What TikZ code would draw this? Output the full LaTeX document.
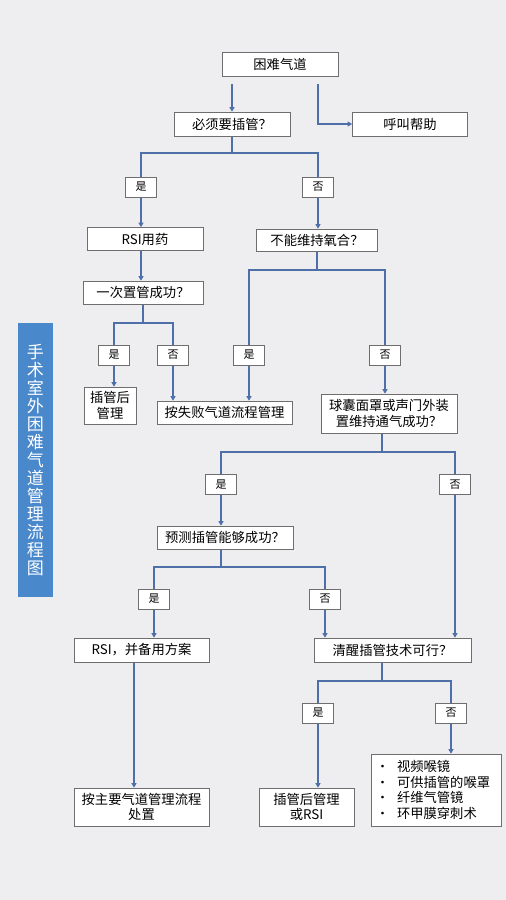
\documentclass[tikz,border=0pt]{standalone}
\usepackage{fontspec}
\setmainfont{Noto Sans CJK SC}
\usetikzlibrary{arrows.meta,backgrounds}
\definecolor{bg}{HTML}{EEEEF1}
\definecolor{ln}{HTML}{4F6FA8}
\definecolor{bd}{HTML}{6E6E6E}
\definecolor{ttl}{HTML}{4A88CC}
\newcommand{\mybul}{\makebox[21pt][l]{\fontsize{13}{15}\selectfont •}}
\tikzset{
  box/.style={draw=bd, line width=0.7pt, fill=white, inner sep=0pt, align=center, font=\fontsize{13.3}{15.5}\selectfont},
  lbl/.style={draw=bd, line width=0.6pt, fill=white, inner sep=0pt, minimum width=31pt, minimum height=20pt, font=\fontsize{11}{13}\selectfont},
  conn/.style={draw=ln, line width=1.5pt},
  thickconn/.style={draw=ln, line width=2.3pt},
  arr/.style={conn, -{Triangle[width=5pt,length=4.5pt]}},
}
\begin{document}
\begin{tikzpicture}[x=1pt,y=-1pt]
\useasboundingbox (0,0) rectangle (506,900);
\node[box,minimum width=116pt,minimum height=24pt] (t0) at (280,64) {困难气道};
\node[box,minimum width=116pt,minimum height=24pt] (q1) at (232,124) {必须要插管？};
\node[box,minimum width=115pt,minimum height=24pt] (help) at (410,124) {呼叫帮助};
\node[lbl] (y1) at (141,187) {是};
\node[lbl] (n1) at (318,187) {否};
\node[box,minimum width=116pt,minimum height=23pt] (rsi) at (145,239) {RSI用药};
\node[box,minimum width=121pt,minimum height=22pt] (q2) at (317,240) {不能维持氧合？};
\node[box,minimum width=120pt,minimum height=23pt] (q3) at (143,292.5) {一次置管成功？};
\node[lbl] (y3) at (114,355) {是};
\node[lbl] (n3) at (173,355) {否};
\node[lbl] (y2) at (249,355) {是};
\node[lbl] (n2) at (385,355) {否};
\node[box,minimum width=52pt,minimum height=37pt] (after1) at (110,405.5) {插管后\\管理};
\node[box,minimum width=135pt,minimum height=23pt] (fail) at (224.5,412.5) {按失败气道流程管理};
\node[box,minimum width=136pt,minimum height=39pt] (q4) at (389,413.5) {球囊面罩或声门外装\\置维持通气成功？};
\node[lbl] (y4) at (221,484.5) {是};
\node[lbl] (n4) at (455,484.5) {否};
\node[box,minimum width=136pt,minimum height=23pt] (q5) at (225,537.5) {预测插管能够成功？};
\node[lbl] (y5) at (154,599) {是};
\node[lbl] (n5) at (325,599) {否};
\node[box,minimum width=135pt,minimum height=24pt] (rsi2) at (141.5,650) {RSI，并备用方案};
\node[box,minimum width=157pt,minimum height=24pt] (q6) at (392.5,650) {清醒插管技术可行？};
\node[lbl] (y6) at (318,713) {是};
\node[lbl] (n6) at (451,713) {否};
\node[box,minimum width=135pt,minimum height=38pt] (end1) at (141.5,807) {按主要气道管理流程\\处置};
\node[box,minimum width=95pt,minimum height=38pt] (end2) at (306.5,807) {插管后管理\\或RSI};
\node[box,minimum width=130pt,minimum height=72pt,text width=120pt,align=left] (end3) at (436,790)
  {\mybul 视频喉镜\\\mybul 可供插管的喉罩\\\mybul 纤维气管镜\\\mybul 环甲膜穿刺术};
\node[fill=ttl, minimum width=35pt, minimum height=274pt, inner sep=0pt, text=white, align=center, font=\fontsize{17}{18}\selectfont] (title) at (35.5,460) {手\\术\\室\\外\\困\\难\\气\\道\\管\\理\\流\\程\\图};
\begin{scope}[on background layer]
\fill[bg] (0,0) rectangle (506,900);
\draw[arr] ([yshift=-8pt]t0.south -| q1.north) -- (q1.north);
\draw[arr] ([yshift=-8pt]t0.south -| n1.north) |- (help.west);
\coordinate (b1) at (232,153);
\draw[conn] (q1.south) -- (b1);
\draw[conn] (y1.north) |- (b1) -| (n1.north);
\draw[arr] (y1.south) -- (y1.south |- rsi.north);
\draw[arr] (n1.south) -- (n1.south |- q2.north);
\draw[arr] (y1.south |- rsi.south) -- (y1.south |- q3.north);
\coordinate (b3) at (143,323);
\draw[thickconn] (q3.south) -- (b3);
\draw[thickconn] (y3.north) |- (b3) -| (n3.north);
\draw[arr,line width=2.3pt] (y3.south) -- (y3.south |- after1.north);
\draw[arr] (n3.south) -- (n3.south |- fail.north);
\coordinate (b2) at (317,270);
\draw[conn] (q2.south) -- (b2);
\draw[conn] (y2.north) |- (b2) -| (n2.north);
\draw[arr] (y2.south) -- (y2.south |- fail.north);
\draw[arr] (n2.south) -- (n2.south |- q4.north);
\coordinate (b4) at (382,452);
\draw[conn] (b4 |- q4.south) -- (b4);
\draw[conn] (y4.north) |- (b4) -| (n4.north);
\draw[arr] (y4.south) -- (y4.south |- q5.north);
\draw[arr] (n4.south) -- (n4.south |- q6.north);
\coordinate (b5) at (221,567);
\draw[conn] (b5 |- q5.south) -- (b5);
\draw[conn] (y5.north) |- (b5) -| (n5.north);
\draw[arr] (y5.south) -- (y5.south |- rsi2.north);
\draw[arr] (n5.south) -- (n5.south |- q6.north);
\coordinate (c1) at (134,0);
\draw[arr] (c1 |- rsi2.south) -- (c1 |- end1.north);
\coordinate (b6) at (382,681);
\draw[conn] (b6 |- q6.south) -- (b6);
\draw[conn] (y6.north) |- (b6) -| (n6.north);
\draw[arr] (y6.south) -- (y6.south |- end2.north);
\draw[arr] (n6.south) -- (n6.south |- end3.north);
\end{scope}
\end{tikzpicture}
\end{document}
